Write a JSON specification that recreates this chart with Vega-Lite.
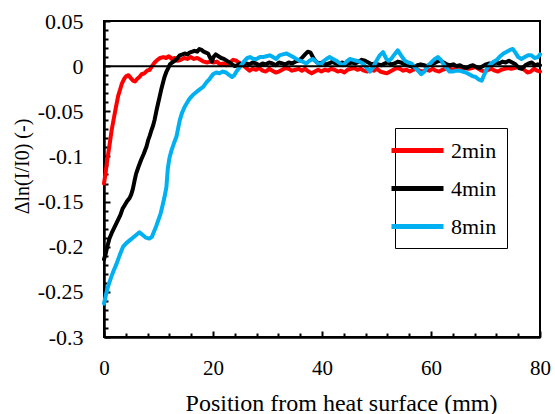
{
  "$schema": "https://vega.github.io/schema/vega-lite/v6.json",
  "width": 436,
  "height": 316,
  "autosize": {"type": "none"},
  "padding": {"left": 104, "top": 21, "right": 15, "bottom": 77},
  "background": "white",
  "config": {
    "view": {"stroke": "black", "strokeWidth": 2},
    "font": "Liberation Serif",
    "axis": {
      "labelFont": "Liberation Serif",
      "titleFont": "Liberation Serif",
      "labelColor": "black",
      "titleColor": "black",
      "titleFontWeight": "normal",
      "domainColor": "black",
      "tickColor": "black",
      "grid": false
    }
  },
  "datasets": {
    "curves": [
      {"s":"2min","x":0,"v":-0.130},{"s":"2min","x":0.3,"v":-0.118},{"s":"2min","x":0.6,"v":-0.104},{"s":"2min","x":1.0,"v":-0.088},{"s":"2min","x":1.4,"v":-0.071},{"s":"2min","x":1.8,"v":-0.058},{"s":"2min","x":2.2,"v":-0.045},{"s":"2min","x":2.6,"v":-0.033},{"s":"2min","x":2.9,"v":-0.027},{"s":"2min","x":3.3,"v":-0.019},{"s":"2min","x":3.7,"v":-0.014},{"s":"2min","x":4.1,"v":-0.011},{"s":"2min","x":4.5,"v":-0.010},{"s":"2min","x":4.9,"v":-0.013},{"s":"2min","x":5.3,"v":-0.016},{"s":"2min","x":5.7,"v":-0.017},{"s":"2min","x":6.1,"v":-0.014},{"s":"2min","x":6.5,"v":-0.012},{"s":"2min","x":6.9,"v":-0.009},{"s":"2min","x":7.4,"v":-0.008},{"s":"2min","x":7.9,"v":-0.005},{"s":"2min","x":8.4,"v":-0.004},{"s":"2min","x":8.8,"v":0.000},{"s":"2min","x":9.3,"v":0.004},{"s":"2min","x":9.8,"v":0.007},{"s":"2min","x":10.3,"v":0.009},{"s":"2min","x":10.9,"v":0.010},{"s":"2min","x":11.4,"v":0.009},{"s":"2min","x":11.9,"v":0.011},{"s":"2min","x":12.4,"v":0.008},{"s":"2min","x":13.0,"v":0.009},{"s":"2min","x":13.5,"v":0.006},{"s":"2min","x":14.1,"v":0.007},{"s":"2min","x":14.7,"v":0.009},{"s":"2min","x":15.3,"v":0.008},{"s":"2min","x":15.9,"v":0.010},{"s":"2min","x":16.5,"v":0.008},{"s":"2min","x":17.1,"v":0.009},{"s":"2min","x":17.7,"v":0.007},{"s":"2min","x":18.3,"v":0.005},{"s":"2min","x":18.9,"v":0.004},{"s":"2min","x":19.5,"v":0.005},{"s":"2min","x":20.1,"v":0.004},{"s":"2min","x":20.7,"v":0.005},{"s":"2min","x":21.3,"v":0.002},{"s":"2min","x":21.9,"v":0.003},{"s":"2min","x":22.5,"v":0.001},{"s":"2min","x":23.1,"v":0.004},{"s":"2min","x":23.7,"v":0.007},{"s":"2min","x":24.3,"v":0.006},{"s":"2min","x":24.9,"v":0.003},{"s":"2min","x":25.5,"v":0.001},{"s":"2min","x":26.1,"v":-0.002},{"s":"2min","x":26.7,"v":-0.005},{"s":"2min","x":27.3,"v":-0.003},{"s":"2min","x":27.9,"v":-0.004},{"s":"2min","x":28.5,"v":-0.002},{"s":"2min","x":29.1,"v":-0.005},{"s":"2min","x":29.7,"v":-0.006},{"s":"2min","x":30.3,"v":-0.003},{"s":"2min","x":30.9,"v":-0.005},{"s":"2min","x":31.5,"v":-0.007},{"s":"2min","x":32.1,"v":-0.006},{"s":"2min","x":32.7,"v":-0.004},{"s":"2min","x":33.3,"v":-0.002},{"s":"2min","x":33.9,"v":-0.003},{"s":"2min","x":34.5,"v":-0.005},{"s":"2min","x":35.1,"v":-0.004},{"s":"2min","x":35.7,"v":-0.003},{"s":"2min","x":36.3,"v":-0.005},{"s":"2min","x":36.9,"v":-0.003},{"s":"2min","x":37.5,"v":-0.006},{"s":"2min","x":38.1,"v":-0.008},{"s":"2min","x":38.7,"v":-0.006},{"s":"2min","x":39.3,"v":-0.004},{"s":"2min","x":39.9,"v":-0.006},{"s":"2min","x":40.5,"v":-0.004},{"s":"2min","x":41.1,"v":-0.005},{"s":"2min","x":41.7,"v":-0.003},{"s":"2min","x":42.3,"v":-0.004},{"s":"2min","x":42.9,"v":-0.006},{"s":"2min","x":43.5,"v":-0.005},{"s":"2min","x":44.1,"v":-0.007},{"s":"2min","x":44.7,"v":-0.004},{"s":"2min","x":45.3,"v":-0.003},{"s":"2min","x":45.9,"v":-0.002},{"s":"2min","x":46.5,"v":-0.004},{"s":"2min","x":47.1,"v":-0.003},{"s":"2min","x":47.7,"v":-0.005},{"s":"2min","x":48.3,"v":-0.006},{"s":"2min","x":48.9,"v":-0.004},{"s":"2min","x":49.5,"v":-0.005},{"s":"2min","x":50.1,"v":-0.003},{"s":"2min","x":50.7,"v":-0.006},{"s":"2min","x":51.3,"v":-0.007},{"s":"2min","x":51.9,"v":-0.008},{"s":"2min","x":52.5,"v":-0.006},{"s":"2min","x":53.1,"v":-0.004},{"s":"2min","x":53.7,"v":-0.002},{"s":"2min","x":54.3,"v":-0.003},{"s":"2min","x":54.9,"v":-0.005},{"s":"2min","x":55.5,"v":-0.004},{"s":"2min","x":56.1,"v":-0.006},{"s":"2min","x":56.7,"v":-0.004},{"s":"2min","x":57.3,"v":-0.003},{"s":"2min","x":57.9,"v":-0.005},{"s":"2min","x":58.5,"v":-0.006},{"s":"2min","x":59.1,"v":-0.004},{"s":"2min","x":59.7,"v":-0.005},{"s":"2min","x":60.3,"v":-0.003},{"s":"2min","x":60.9,"v":-0.005},{"s":"2min","x":61.5,"v":-0.006},{"s":"2min","x":62.1,"v":-0.004},{"s":"2min","x":62.7,"v":-0.003},{"s":"2min","x":63.3,"v":-0.002},{"s":"2min","x":63.9,"v":-0.004},{"s":"2min","x":64.5,"v":-0.003},{"s":"2min","x":65.1,"v":-0.002},{"s":"2min","x":65.7,"v":-0.004},{"s":"2min","x":66.3,"v":-0.002},{"s":"2min","x":66.9,"v":-0.003},{"s":"2min","x":67.5,"v":-0.002},{"s":"2min","x":68.1,"v":-0.001},{"s":"2min","x":68.7,"v":-0.003},{"s":"2min","x":69.3,"v":-0.005},{"s":"2min","x":69.9,"v":-0.006},{"s":"2min","x":70.5,"v":-0.004},{"s":"2min","x":71.1,"v":-0.003},{"s":"2min","x":71.7,"v":-0.005},{"s":"2min","x":72.3,"v":-0.006},{"s":"2min","x":72.9,"v":-0.004},{"s":"2min","x":73.5,"v":-0.003},{"s":"2min","x":74.1,"v":-0.002},{"s":"2min","x":74.7,"v":-0.003},{"s":"2min","x":75.3,"v":-0.002},{"s":"2min","x":75.9,"v":-0.001},{"s":"2min","x":76.5,"v":-0.002},{"s":"2min","x":77.1,"v":-0.004},{"s":"2min","x":77.7,"v":-0.007},{"s":"2min","x":78.3,"v":-0.006},{"s":"2min","x":78.9,"v":-0.003},{"s":"2min","x":79.5,"v":-0.005},{"s":"2min","x":80,"v":-0.006},
      {"s":"4min","x":0,"v":-0.214},{"s":"4min","x":0.3,"v":-0.208},{"s":"4min","x":0.6,"v":-0.200},{"s":"4min","x":1.0,"v":-0.191},{"s":"4min","x":1.4,"v":-0.185},{"s":"4min","x":1.8,"v":-0.180},{"s":"4min","x":2.2,"v":-0.175},{"s":"4min","x":2.6,"v":-0.170},{"s":"4min","x":3.0,"v":-0.165},{"s":"4min","x":3.4,"v":-0.158},{"s":"4min","x":3.8,"v":-0.154},{"s":"4min","x":4.2,"v":-0.150},{"s":"4min","x":4.7,"v":-0.146},{"s":"4min","x":5.0,"v":-0.142},{"s":"4min","x":5.3,"v":-0.136},{"s":"4min","x":5.6,"v":-0.127},{"s":"4min","x":5.9,"v":-0.119},{"s":"4min","x":6.3,"v":-0.112},{"s":"4min","x":6.8,"v":-0.104},{"s":"4min","x":7.3,"v":-0.097},{"s":"4min","x":7.8,"v":-0.089},{"s":"4min","x":8.1,"v":-0.082},{"s":"4min","x":8.4,"v":-0.077},{"s":"4min","x":8.7,"v":-0.071},{"s":"4min","x":9.0,"v":-0.066},{"s":"4min","x":9.3,"v":-0.059},{"s":"4min","x":9.6,"v":-0.050},{"s":"4min","x":9.9,"v":-0.042},{"s":"4min","x":10.2,"v":-0.034},{"s":"4min","x":10.5,"v":-0.026},{"s":"4min","x":10.8,"v":-0.019},{"s":"4min","x":11.1,"v":-0.012},{"s":"4min","x":11.4,"v":-0.007},{"s":"4min","x":11.8,"v":-0.002},{"s":"4min","x":12.1,"v":0.002},{"s":"4min","x":12.5,"v":0.004},{"s":"4min","x":13.0,"v":0.006},{"s":"4min","x":13.5,"v":0.009},{"s":"4min","x":13.9,"v":0.012},{"s":"4min","x":14.4,"v":0.013},{"s":"4min","x":14.8,"v":0.014},{"s":"4min","x":15.3,"v":0.013},{"s":"4min","x":15.7,"v":0.015},{"s":"4min","x":16.2,"v":0.016},{"s":"4min","x":16.6,"v":0.017},{"s":"4min","x":17.1,"v":0.016},{"s":"4min","x":17.5,"v":0.019},{"s":"4min","x":17.9,"v":0.018},{"s":"4min","x":18.3,"v":0.016},{"s":"4min","x":18.7,"v":0.015},{"s":"4min","x":19.1,"v":0.014},{"s":"4min","x":19.5,"v":0.009},{"s":"4min","x":19.8,"v":0.005},{"s":"4min","x":20.1,"v":0.010},{"s":"4min","x":20.5,"v":0.013},{"s":"4min","x":21.0,"v":0.011},{"s":"4min","x":21.5,"v":0.009},{"s":"4min","x":22.0,"v":0.008},{"s":"4min","x":22.5,"v":0.006},{"s":"4min","x":23.0,"v":0.004},{"s":"4min","x":23.5,"v":0.002},{"s":"4min","x":24.0,"v":0.000},{"s":"4min","x":24.5,"v":0.001},{"s":"4min","x":25.0,"v":0.003},{"s":"4min","x":25.5,"v":0.002},{"s":"4min","x":26.1,"v":0.003},{"s":"4min","x":26.7,"v":0.002},{"s":"4min","x":27.3,"v":0.004},{"s":"4min","x":27.9,"v":0.003},{"s":"4min","x":28.5,"v":0.001},{"s":"4min","x":29.1,"v":0.003},{"s":"4min","x":29.7,"v":0.002},{"s":"4min","x":30.3,"v":0.004},{"s":"4min","x":30.9,"v":0.003},{"s":"4min","x":31.5,"v":0.001},{"s":"4min","x":32.1,"v":0.004},{"s":"4min","x":32.7,"v":0.003},{"s":"4min","x":33.3,"v":0.002},{"s":"4min","x":33.9,"v":0.004},{"s":"4min","x":34.5,"v":0.003},{"s":"4min","x":35.1,"v":0.005},{"s":"4min","x":35.7,"v":0.006},{"s":"4min","x":36.3,"v":0.009},{"s":"4min","x":36.9,"v":0.013},{"s":"4min","x":37.4,"v":0.016},{"s":"4min","x":37.9,"v":0.015},{"s":"4min","x":38.4,"v":0.009},{"s":"4min","x":38.9,"v":0.005},{"s":"4min","x":39.5,"v":0.003},{"s":"4min","x":40.1,"v":0.004},{"s":"4min","x":40.7,"v":0.002},{"s":"4min","x":41.3,"v":0.003},{"s":"4min","x":41.9,"v":0.005},{"s":"4min","x":42.5,"v":0.003},{"s":"4min","x":43.1,"v":0.002},{"s":"4min","x":43.7,"v":0.004},{"s":"4min","x":44.3,"v":0.002},{"s":"4min","x":44.9,"v":0.003},{"s":"4min","x":45.5,"v":0.004},{"s":"4min","x":46.1,"v":0.003},{"s":"4min","x":46.7,"v":0.005},{"s":"4min","x":47.3,"v":0.007},{"s":"4min","x":47.9,"v":0.006},{"s":"4min","x":48.5,"v":0.004},{"s":"4min","x":49.1,"v":0.002},{"s":"4min","x":49.7,"v":0.003},{"s":"4min","x":50.3,"v":0.002},{"s":"4min","x":50.9,"v":0.001},{"s":"4min","x":51.5,"v":0.003},{"s":"4min","x":52.1,"v":0.004},{"s":"4min","x":52.7,"v":0.002},{"s":"4min","x":53.3,"v":0.003},{"s":"4min","x":53.9,"v":0.005},{"s":"4min","x":54.5,"v":0.004},{"s":"4min","x":55.1,"v":0.002},{"s":"4min","x":55.7,"v":0.001},{"s":"4min","x":56.3,"v":0.000},{"s":"4min","x":56.9,"v":-0.001},{"s":"4min","x":57.5,"v":0.001},{"s":"4min","x":58.1,"v":0.002},{"s":"4min","x":58.7,"v":0.001},{"s":"4min","x":59.3,"v":0.000},{"s":"4min","x":59.9,"v":0.002},{"s":"4min","x":60.5,"v":0.003},{"s":"4min","x":61.1,"v":0.005},{"s":"4min","x":61.7,"v":0.006},{"s":"4min","x":62.3,"v":0.004},{"s":"4min","x":62.9,"v":0.002},{"s":"4min","x":63.5,"v":0.001},{"s":"4min","x":64.1,"v":0.002},{"s":"4min","x":64.7,"v":0.000},{"s":"4min","x":65.3,"v":0.001},{"s":"4min","x":65.9,"v":-0.001},{"s":"4min","x":66.5,"v":-0.002},{"s":"4min","x":67.1,"v":0.000},{"s":"4min","x":67.7,"v":0.001},{"s":"4min","x":68.3,"v":-0.001},{"s":"4min","x":68.9,"v":-0.002},{"s":"4min","x":69.5,"v":0.000},{"s":"4min","x":70.1,"v":0.002},{"s":"4min","x":70.7,"v":0.003},{"s":"4min","x":71.3,"v":0.002},{"s":"4min","x":71.9,"v":0.004},{"s":"4min","x":72.5,"v":0.003},{"s":"4min","x":73.1,"v":0.005},{"s":"4min","x":73.7,"v":0.004},{"s":"4min","x":74.3,"v":0.006},{"s":"4min","x":74.9,"v":0.004},{"s":"4min","x":75.5,"v":0.002},{"s":"4min","x":76.1,"v":-0.002},{"s":"4min","x":76.7,"v":-0.003},{"s":"4min","x":77.3,"v":0.001},{"s":"4min","x":77.9,"v":0.003},{"s":"4min","x":78.5,"v":0.004},{"s":"4min","x":79.1,"v":0.001},{"s":"4min","x":79.6,"v":0.002},{"s":"4min","x":80,"v":0.001},
      {"s":"8min","x":0,"v":-0.263},{"s":"8min","x":0.2,"v":-0.258},{"s":"8min","x":0.4,"v":-0.252},{"s":"8min","x":0.8,"v":-0.243},{"s":"8min","x":1.3,"v":-0.234},{"s":"8min","x":1.8,"v":-0.226},{"s":"8min","x":2.3,"v":-0.219},{"s":"8min","x":2.9,"v":-0.209},{"s":"8min","x":3.5,"v":-0.200},{"s":"8min","x":4.1,"v":-0.196},{"s":"8min","x":4.7,"v":-0.193},{"s":"8min","x":5.3,"v":-0.190},{"s":"8min","x":5.9,"v":-0.187},{"s":"8min","x":6.5,"v":-0.184},{"s":"8min","x":7.1,"v":-0.187},{"s":"8min","x":7.7,"v":-0.190},{"s":"8min","x":8.3,"v":-0.191},{"s":"8min","x":8.8,"v":-0.189},{"s":"8min","x":9.2,"v":-0.183},{"s":"8min","x":9.6,"v":-0.177},{"s":"8min","x":10.0,"v":-0.170},{"s":"8min","x":10.4,"v":-0.163},{"s":"8min","x":10.8,"v":-0.153},{"s":"8min","x":11.1,"v":-0.145},{"s":"8min","x":11.45,"v":-0.134},{"s":"8min","x":11.7,"v":-0.114},{"s":"8min","x":12.0,"v":-0.102},{"s":"8min","x":12.4,"v":-0.093},{"s":"8min","x":12.8,"v":-0.086},{"s":"8min","x":13.3,"v":-0.078},{"s":"8min","x":13.6,"v":-0.069},{"s":"8min","x":13.9,"v":-0.060},{"s":"8min","x":14.3,"v":-0.052},{"s":"8min","x":14.8,"v":-0.045},{"s":"8min","x":15.3,"v":-0.040},{"s":"8min","x":15.7,"v":-0.036},{"s":"8min","x":16.3,"v":-0.032},{"s":"8min","x":16.9,"v":-0.029},{"s":"8min","x":17.5,"v":-0.026},{"s":"8min","x":18.2,"v":-0.023},{"s":"8min","x":18.8,"v":-0.018},{"s":"8min","x":19.4,"v":-0.014},{"s":"8min","x":20.0,"v":-0.009},{"s":"8min","x":20.6,"v":-0.007},{"s":"8min","x":21.2,"v":-0.008},{"s":"8min","x":21.8,"v":-0.006},{"s":"8min","x":22.4,"v":-0.007},{"s":"8min","x":23.0,"v":-0.010},{"s":"8min","x":23.5,"v":-0.012},{"s":"8min","x":23.9,"v":-0.010},{"s":"8min","x":24.3,"v":-0.006},{"s":"8min","x":24.8,"v":-0.002},{"s":"8min","x":25.3,"v":0.002},{"s":"8min","x":25.8,"v":0.006},{"s":"8min","x":26.3,"v":0.009},{"s":"8min","x":26.8,"v":0.010},{"s":"8min","x":27.4,"v":0.008},{"s":"8min","x":28.0,"v":0.008},{"s":"8min","x":28.6,"v":0.010},{"s":"8min","x":29.2,"v":0.010},{"s":"8min","x":29.8,"v":0.011},{"s":"8min","x":30.4,"v":0.012},{"s":"8min","x":31.0,"v":0.010},{"s":"8min","x":31.6,"v":0.008},{"s":"8min","x":32.2,"v":0.012},{"s":"8min","x":32.8,"v":0.013},{"s":"8min","x":33.5,"v":0.014},{"s":"8min","x":34.1,"v":0.012},{"s":"8min","x":34.7,"v":0.010},{"s":"8min","x":35.3,"v":0.008},{"s":"8min","x":35.9,"v":0.006},{"s":"8min","x":36.5,"v":0.005},{"s":"8min","x":37.1,"v":0.003},{"s":"8min","x":37.7,"v":0.006},{"s":"8min","x":38.3,"v":0.008},{"s":"8min","x":38.9,"v":0.005},{"s":"8min","x":39.6,"v":0.001},{"s":"8min","x":40.2,"v":0.005},{"s":"8min","x":40.8,"v":0.008},{"s":"8min","x":41.4,"v":0.010},{"s":"8min","x":42.0,"v":0.008},{"s":"8min","x":42.6,"v":0.006},{"s":"8min","x":43.3,"v":0.003},{"s":"8min","x":43.9,"v":0.001},{"s":"8min","x":44.5,"v":0.005},{"s":"8min","x":45.1,"v":0.008},{"s":"8min","x":45.7,"v":0.007},{"s":"8min","x":46.3,"v":0.006},{"s":"8min","x":46.9,"v":0.005},{"s":"8min","x":47.5,"v":0.003},{"s":"8min","x":48.2,"v":-0.002},{"s":"8min","x":48.8,"v":-0.006},{"s":"8min","x":49.4,"v":-0.001},{"s":"8min","x":50.0,"v":0.006},{"s":"8min","x":50.6,"v":0.012},{"s":"8min","x":51.2,"v":0.0156},{"s":"8min","x":51.8,"v":0.008},{"s":"8min","x":52.2,"v":0.006},{"s":"8min","x":52.7,"v":0.008},{"s":"8min","x":53.3,"v":0.013},{"s":"8min","x":53.9,"v":0.0175},{"s":"8min","x":54.5,"v":0.012},{"s":"8min","x":55.2,"v":0.006},{"s":"8min","x":55.8,"v":0.004},{"s":"8min","x":56.4,"v":0.003},{"s":"8min","x":57.0,"v":-0.001},{"s":"8min","x":57.6,"v":-0.005},{"s":"8min","x":58.2,"v":-0.009},{"s":"8min","x":58.8,"v":-0.006},{"s":"8min","x":59.4,"v":0.000},{"s":"8min","x":60.1,"v":0.0045},{"s":"8min","x":60.7,"v":0.008},{"s":"8min","x":61.3,"v":0.010},{"s":"8min","x":61.8,"v":0.007},{"s":"8min","x":62.2,"v":0.003},{"s":"8min","x":62.8,"v":-0.002},{"s":"8min","x":63.4,"v":-0.006},{"s":"8min","x":64.0,"v":-0.006},{"s":"8min","x":64.6,"v":-0.005},{"s":"8min","x":65.2,"v":-0.005},{"s":"8min","x":65.8,"v":-0.006},{"s":"8min","x":66.4,"v":-0.007},{"s":"8min","x":67.0,"v":-0.009},{"s":"8min","x":67.6,"v":-0.011},{"s":"8min","x":68.2,"v":-0.012},{"s":"8min","x":68.8,"v":-0.015},{"s":"8min","x":69.3,"v":-0.016},{"s":"8min","x":69.8,"v":-0.009},{"s":"8min","x":70.3,"v":-0.002},{"s":"8min","x":70.9,"v":0.002},{"s":"8min","x":71.5,"v":0.005},{"s":"8min","x":72.1,"v":0.007},{"s":"8min","x":72.7,"v":0.011},{"s":"8min","x":73.3,"v":0.014},{"s":"8min","x":73.9,"v":0.016},{"s":"8min","x":74.5,"v":0.018},{"s":"8min","x":75.0,"v":0.019},{"s":"8min","x":75.5,"v":0.015},{"s":"8min","x":76.0,"v":0.010},{"s":"8min","x":76.6,"v":0.008},{"s":"8min","x":77.2,"v":0.010},{"s":"8min","x":77.8,"v":0.012},{"s":"8min","x":78.4,"v":0.012},{"s":"8min","x":79.0,"v":0.009},{"s":"8min","x":79.6,"v":0.010},{"s":"8min","x":80,"v":0.013}
    ],
    "zero": [{"from": 0, "to": 80, "level": 0}]
  },
  "layer": [
    {
      "data": {"name": "curves"},
      "mark": {"type": "line", "strokeWidth": 4, "strokeJoin": "round", "strokeCap": "round"},
      "encoding": {
        "x": {
          "field": "x", "type": "quantitative",
          "scale": {"domain": [0, 80], "nice": false},
          "axis": {
            "orient": "bottom",
            "values": [0, 20, 40, 60, 80],
            "format": "d",
            "tickSize": -6, "tickWidth": 2,
            "domainWidth": 2.5,
            "labelFontSize": 21, "labelPadding": 26,
            "labelFlush": false, "labelOverlap": false,
            "title": "Position  from heat surface (mm)",
            "titleFontSize": 24,
            "titleX": 237, "titleY": 73,
            "titleBaseline": "alphabetic", "titleAlign": "center", "titleAnchor": "middle"
          }
        },
        "y": {
          "field": "v", "type": "quantitative",
          "scale": {"domain": [-0.3, 0.05], "nice": false, "zero": false},
          "axis": {
            "orient": "left",
            "values": [0.05, 0, -0.05, -0.1, -0.15, -0.2, -0.25, -0.3],
            "labelExpr": "datum.value + ''",
            "tickSize": -6, "tickWidth": 2,
            "domainWidth": 2.5,
            "labelFontSize": 22, "labelPadding": 27,
            "labelFlush": false, "labelOverlap": false,
            "title": "Δln(I/I0) (-)",
            "titleFontSize": 20,
            "titleX": -76, "titleY": 145,
            "titleAngle": -90,
            "titleBaseline": "alphabetic", "titleAlign": "center", "titleAnchor": "middle"
          }
        },
        "color": {
          "field": "s", "type": "nominal",
          "scale": {"domain": ["2min", "4min", "8min"], "range": ["#FF0000", "#000000", "#00B0F0"]},
          "legend": {
            "orient": "none", "legendX": 291, "legendY": 107,
            "title": null,
            "fillColor": "white", "strokeColor": "black",
            "padding": 10,
            "symbolType": "M-2.6,0H2.6", "symbolSize": 400, "symbolStrokeWidth": 5,
            "labelFont": "Liberation Serif", "labelFontSize": 22, "labelColor": "black",
            "labelOffset": 21, "rowPadding": 14
          }
        }
      }
    },
    {
      "data": {"name": "zero"},
      "mark": {"type": "rule", "color": "black", "strokeWidth": 2},
      "encoding": {
        "x": {
          "field": "from", "type": "quantitative",
          "axis": {
            "orient": "bottom",
            "values": [4, 8, 12, 16, 24, 28, 32, 36, 44, 48, 52, 56, 64, 68, 72, 76],
            "labels": false, "domain": false, "title": null,
            "tickSize": -4, "tickWidth": 2
          }
        },
        "x2": {"field": "to"},
        "y": {
          "field": "level", "type": "quantitative",
          "axis": {
            "orient": "left",
            "values": [0.04, 0.03, 0.02, 0.01, -0.01, -0.02, -0.03, -0.04, -0.06, -0.07, -0.08, -0.09, -0.11, -0.12, -0.13, -0.14, -0.16, -0.17, -0.18, -0.19, -0.21, -0.22, -0.23, -0.24, -0.26, -0.27, -0.28, -0.29],
            "labels": false, "domain": false, "title": null,
            "tickSize": -4, "tickWidth": 2
          }
        }
      }
    }
  ],
  "resolve": {"axis": {"x": "independent", "y": "independent"}}
}
